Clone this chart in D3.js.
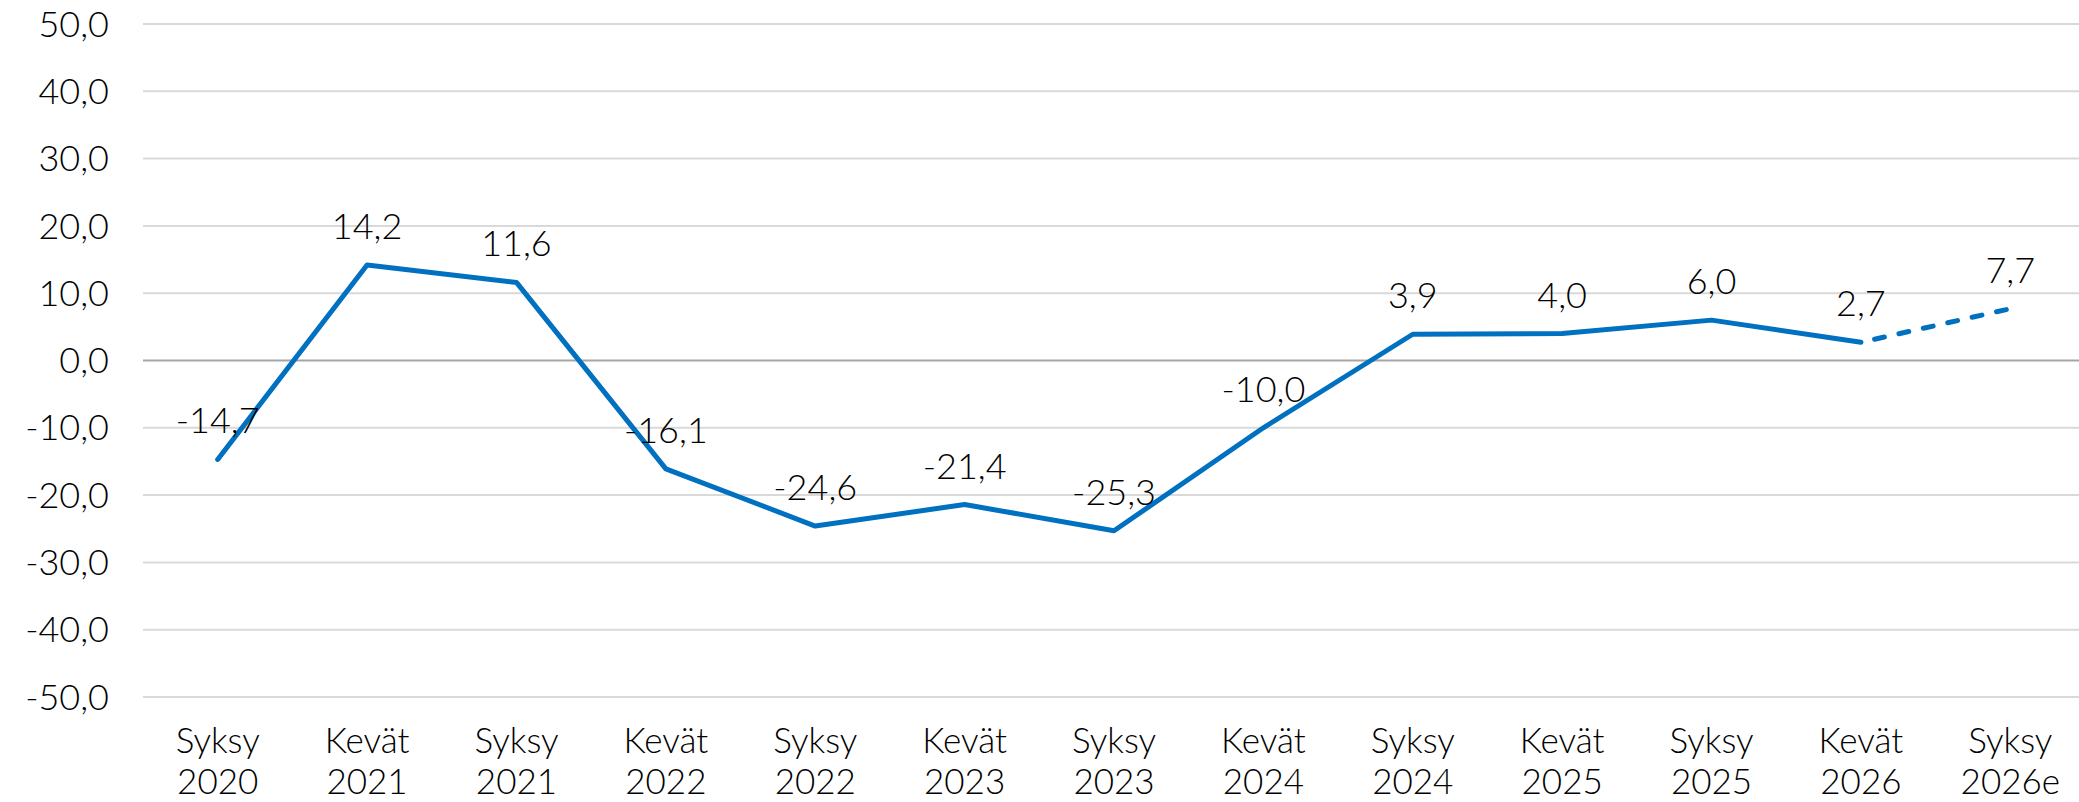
<!DOCTYPE html>
<html>
<head>
<meta charset="utf-8">
<script src="https://cdn.jsdelivr.net/npm/d3@7"></script>
<style>
  html, body { margin: 0; padding: 0; background: #fff; }
  svg { display: block; font-family: Lato, "Open Sans", sans-serif; font-weight: 300; }
</style>
</head>
<body>
<svg id="chart" width="2079" height="802"></svg>
<script>
(function(){
    'use strict';

    var seasons = ['Syksy', 'Kevät', 'Syksy', 'Kevät', 'Syksy', 'Kevät', 'Syksy', 'Kevät', 'Syksy', 'Kevät', 'Syksy', 'Kevät', 'Syksy'];
    var years = ['2020', '2021', '2021', '2022', '2022', '2023', '2023', '2024', '2024', '2025', '2025', '2026', '2026e'];
    var values = [-14.7, 14.2, 11.6, -16.1, -24.6, -21.4, -25.3, -10.0, 3.9, 4.0, 6.0, 2.7, 7.7];
    var forecastFrom = 11; // segment after this index is dashed
    var yTicks = [50, 40, 30, 20, 10, 0, -10, -20, -30, -40, -50];

    var width = 2079;
    var margin = {top: 24, left: 143, right: -6, bottom: 105};
    var height = 802;

    var svg = d3.select('#chart');

    var idx = d3.range(values.length);
    var x = d3.scaleBand().domain(idx).range([margin.left, width - margin.right]);
    var y = d3.scaleLinear().domain([-50, 50]).range([height - margin.bottom, margin.top]);

    function fmt(v) {
        return d3.format('.1f')(v).replace('.', ',').replace('\u2212', '-');
    }
    function cx(i) { return x(i) + x.bandwidth() / 2; }

    // gridlines
    svg.append('g').selectAll('line').data(yTicks).enter().append('line')
        .attr('x1', margin.left).attr('x2', width - margin.right)
        .attr('y1', function(d) { return y(d); }).attr('y2', function(d) { return y(d); })
        .attr('stroke', function(d) { return d === 0 ? '#a6a6a6' : '#d9d9d9'; })
        .attr('stroke-width', 2);

    // y axis labels
    svg.append('g').selectAll('text').data(yTicks).enter().append('text')
        .attr('x', 109).attr('y', function(d) { return y(d); })
        .attr('dy', '0.35em')
        .attr('text-anchor', 'end')
        .attr('font-size', 36)
        .attr('fill', '#000')
        .text(fmt);

    // x axis labels
    var xl = svg.append('g').selectAll('text').data(idx).enter().append('text')
        .attr('text-anchor', 'middle')
        .attr('font-size', 35)
        .attr('fill', '#000');
    xl.append('tspan').attr('x', cx).attr('y', 753).text(function(i) { return seasons[i]; });
    xl.append('tspan').attr('x', cx).attr('y', 794).text(function(i) { return years[i]; });

    var line = d3.line()
        .x(function(i) { return cx(i); })
        .y(function(i) { return y(values[i]); });

    svg.append('path')
        .datum(idx.slice(0, forecastFrom + 1))
        .attr('d', line)
        .attr('fill', 'none')
        .attr('stroke', '#0070c0')
        .attr('stroke-width', 5)
        .attr('stroke-linejoin', 'round')
        .attr('stroke-linecap', 'round');

    svg.append('path')
        .datum(idx.slice(forecastFrom))
        .attr('d', line)
        .attr('fill', 'none')
        .attr('stroke', '#0070c0')
        .attr('stroke-width', 5)
        .attr('stroke-dasharray', '10,15')
        .attr('stroke-dashoffset', -14)
        .attr('stroke-linecap', 'round');

    // data labels
    svg.append('g').selectAll('text').data(idx).enter().append('text')
        .attr('x', cx)
        .attr('y', function(i) { return y(values[i]) - 26; })
        .attr('text-anchor', 'middle')
        .attr('font-size', 36)
        .attr('fill', '#000')
        .text(function(i) { return fmt(values[i]); });
})();
</script>
</body>
</html>
